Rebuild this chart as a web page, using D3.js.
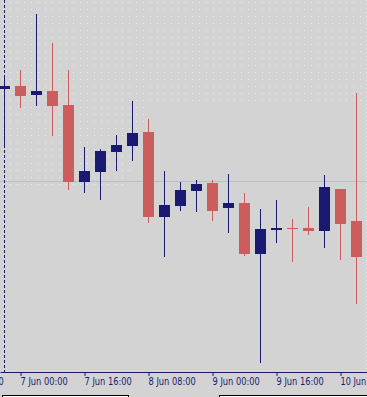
<!DOCTYPE html>
<html>
<head>
<meta charset="utf-8">
<script src="https://cdn.jsdelivr.net/npm/d3@7/dist/d3.min.js"></script>
<style>
  html, body { margin: 0; padding: 0; background: #d3d3d3; overflow: hidden; }
  svg { display: block; }
</style>
</head>
<body>
<svg id="chart" width="367" height="397"></svg>
<script>
// H4 bars, 6 Jun 20:00 -> 10 Jun 12:00
const times = [
  "2021-06-06T20:00Z", "2021-06-07T00:00Z", "2021-06-07T04:00Z", "2021-06-07T08:00Z",
  "2021-06-07T12:00Z", "2021-06-07T16:00Z", "2021-06-07T20:00Z", "2021-06-08T00:00Z",
  "2021-06-08T04:00Z", "2021-06-08T08:00Z", "2021-06-08T12:00Z", "2021-06-08T16:00Z",
  "2021-06-08T20:00Z", "2021-06-09T00:00Z", "2021-06-09T04:00Z", "2021-06-09T08:00Z",
  "2021-06-09T12:00Z", "2021-06-09T16:00Z", "2021-06-09T20:00Z", "2021-06-10T00:00Z",
  "2021-06-10T04:00Z", "2021-06-10T08:00Z", "2021-06-10T12:00Z"
];
const opens  = [1.1411, 1.1414, 1.1405, 1.1409, 1.1395, 1.1318, 1.1328, 1.1348, 1.1354, 1.1368, 1.1283, 1.1294,
                1.1309, 1.1317, 1.1292, 1.1297, 1.1246, 1.1270, 1.1272, 1.1272, 1.1269, 1.1311, 1.1279];
const highs  = [1.1423, 1.1430, 1.1486, 1.1457, 1.1430, 1.1353, 1.1351, 1.1365, 1.1399, 1.1381, 1.1329, 1.1318,
                1.1320, 1.1320, 1.1326, 1.1307, 1.1291, 1.1300, 1.1281, 1.1293, 1.1325, 1.1311, 1.1407];
const lows   = [1.1354, 1.1392, 1.1394, 1.1364, 1.1310, 1.1307, 1.1300, 1.1329, 1.1339, 1.1277, 1.1243, 1.1289,
                1.1288, 1.1279, 1.1267, 1.1244, 1.1137, 1.1257, 1.1238, 1.1265, 1.1252, 1.1240, 1.1196];
const closes = [1.1414, 1.1404, 1.1409, 1.1394, 1.1318, 1.1329, 1.1349, 1.1355, 1.1367, 1.1283, 1.1295, 1.1310,
                1.1316, 1.1289, 1.1297, 1.1246, 1.1271, 1.1272, 1.1271, 1.1269, 1.1313, 1.1276, 1.1243];

const levelPrice = 1.1319;           // horizontal price line
const separatorTime = "2021-06-06T20:00Z";
const tickTimes = [
  "2021-06-06T08:00Z", "2021-06-07T00:00Z", "2021-06-07T16:00Z", "2021-06-08T08:00Z",
  "2021-06-09T00:00Z", "2021-06-09T16:00Z", "2021-06-10T08:00Z"
];

const width = 367, height = 397;
const axisY = 372;
const bull = "#191970", bear = "#cd5c5c";

const bars = times.map((t, i) => ({
  t: new Date(t), o: opens[i], h: highs[i], l: lows[i], c: closes[i]
}));

const x = d3.scaleUtc()
  .domain([new Date("2021-06-06T18:52:30Z"), new Date("2021-06-10T14:37:30Z")])
  .range([0, width]);
const y = d3.scaleLinear()
  .domain([1.1500, 1.1128])
  .range([0, axisY]);

const svg = d3.select("#chart");

svg.append("rect")
  .attr("width", width).attr("height", height)
  .attr("fill", "#d3d3d3");

// faint dotted texture in the upper part
const defs = svg.append("defs");
defs.append("pattern")
  .attr("id", "dots").attr("width", 7).attr("height", 7)
  .attr("patternUnits", "userSpaceOnUse")
  .append("rect").attr("x", 3).attr("y", 2).attr("width", 1).attr("height", 1)
  .attr("fill", "#ececec");
svg.append("path")
  .attr("d", "M0,0H367V105H150L125,190H0Z")
  .attr("fill", "url(#dots)");
svg.append("line")
  .attr("x1", 366.5).attr("x2", 366.5).attr("y1", 0).attr("y2", axisY)
  .attr("stroke", "#ececec").attr("stroke-dasharray", "1,3");

// price level line
svg.append("line")
  .attr("x1", 0).attr("x2", width)
  .attr("y1", y(levelPrice) + 0.5).attr("y2", y(levelPrice) + 0.5)
  .attr("stroke", "#bdbdbd");

// period separator
svg.append("line")
  .attr("x1", x(new Date(separatorTime))).attr("x2", x(new Date(separatorTime)))
  .attr("y1", 0).attr("y2", axisY)
  .attr("stroke", bull).attr("stroke-dasharray", "3,2");

const candle = svg.append("g")
  .attr("shape-rendering", "crispEdges")
  .selectAll("g")
  .data(bars)
  .enter()
  .append("g")
  .attr("fill", d => d.c >= d.o ? bull : bear)
  .attr("stroke", d => d.c >= d.o ? bull : bear);

candle.append("line")
  .attr("x1", d => x(d.t)).attr("x2", d => x(d.t))
  .attr("y1", d => y(d.h)).attr("y2", d => y(d.l));

candle.append("rect")
  .attr("stroke", "none")
  .attr("x", d => x(d.t) - 5.5)
  .attr("width", 11)
  .attr("y", d => Math.round(y(Math.max(d.o, d.c))))
  .attr("height", d => Math.max(1, Math.round(y(Math.min(d.o, d.c)) - y(Math.max(d.o, d.c)))));

// time axis
const fmt = d3.utcFormat("%-d %b %H:%M");
const axis = svg.append("g")
  .attr("transform", `translate(0,${axisY})`)
  .call(d3.axisBottom(x)
    .tickValues(tickTimes.map(t => new Date(t)))
    .tickFormat(fmt)
    .tickSize(4)
    .tickSizeOuter(0));

axis.select(".domain").attr("stroke", bull);
axis.selectAll(".tick line").attr("stroke", bull);
axis.selectAll(".tick text")
  .attr("fill", bull)
  .attr("text-anchor", "start")
  .attr("x", -0.5)
  .attr("y", 13)
  .attr("dy", 0)
  .attr("font-family", "'DejaVu Sans', sans-serif")
  .attr("font-size", 10.5)
  .attr("textLength", function () { return this.textContent.length * 4.3; })
  .attr("lengthAdjust", "spacingAndGlyphs");

// bottom panels
svg.append("rect")
  .attr("x", 2.5).attr("y", 395.5).attr("width", 126).attr("height", 6)
  .attr("fill", "#fff").attr("stroke", "#000");
svg.append("rect")
  .attr("x", 219.5).attr("y", 395.5).attr("width", 150).attr("height", 6)
  .attr("fill", "#fff").attr("stroke", "#000");
</script>
</body>
</html>
